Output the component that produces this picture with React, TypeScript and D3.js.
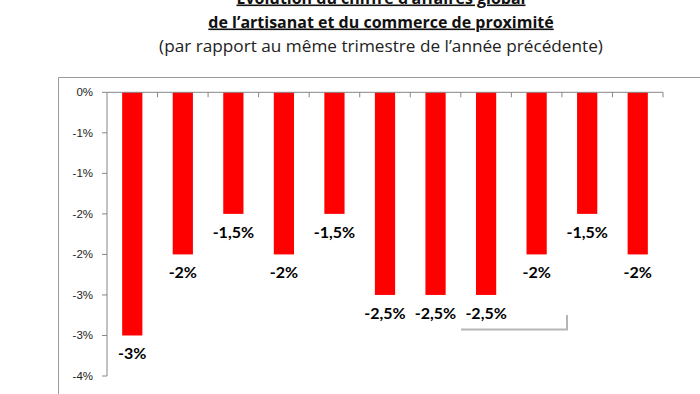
import * as d3 from "d3";

// quarters (labels on the bottom axis are not legible in the source)
const periods = ["Q1", "Q2", "Q3", "Q4", "Q5", "Q6", "Q7", "Q8", "Q9", "Q10", "Q11"];
const values = [-3, -2, -1.5, -2, -1.5, -2.5, -2.5, -2.5, -2, -1.5, -2];
const tickValues = [0, -0.5, -1, -1.5, -2, -2.5, -3, -3.5];
const tickLabels = ["0%", "-1%", "-1%", "-2%", "-2%", "-3%", "-3%", "-4%"];
const titleLines = [
  "Évolution du chiffre d’affaires global",
  "de l’artisanat  et du commerce de proximité",
];
const subtitle = "(par rapport au même trimestre de l’année précédente)";

const W = 700, H = 394;
const fontFam = "Lato, 'Open Sans', sans-serif";
const titleFam = "'Open Sans', Lato, sans-serif";

export default function App() {
  const x = d3.scaleBand<string>()
    .domain(periods)
    .range([107, 663])
    .paddingInner(0.6)
    .paddingOuter(0.3);

  const y = d3.scaleLinear()
    .domain([-3.5, 0])
    .range([376, 92.3]);

  const fmt = (v: number) => String(v).replace(".", ",") + "%";
  const axisCol = "#868686";

  return (
    <svg width={W} height={H} style={{ position: "absolute", left: 0, top: 0, background: "#fff" }}
      fontFamily={fontFam}>
      {/* title */}
      {titleLines.map((t, i) => (
        <text key={t} x={381} y={3.5 + i * 24} textAnchor="middle" fontSize={16}
          fontFamily={titleFam} fontWeight="bold" textDecoration="underline" fill="#111">{t}</text>
      ))}
      <text x={381} y={51.5} textAnchor="middle" fontSize={17.2} fontFamily={titleFam}
        fill="#222">{subtitle}</text>

      {/* chart frame */}
      <path d={`M58.5,${H} V77.5 H${W}`} fill="none" stroke="#9a9a9a" strokeWidth={1} />

      {/* bars */}
      {values.map((v, i) => (
        <rect key={i} x={x(periods[i])} y={y(0)} width={x.bandwidth()}
          height={y(v) - y(0)} fill="#ff0000" />
      ))}

      {/* value labels */}
      {values.map((v, i) => (
        <text key={"l" + i} x={(x(periods[i]) as number) + x.bandwidth() / 2} y={y(v) + 24}
          textAnchor="middle" fontSize={16} fontWeight="bold" fill="#000">{fmt(v)}</text>
      ))}

      {/* y axis */}
      <line x1={107} x2={107} y1={y(0)} y2={y(-3.5)} stroke={axisCol} />
      {tickValues.map((t, i) => (
        <g key={"t" + i}>
          <line x1={102} x2={107} y1={y(t)} y2={y(t)} stroke={axisCol} />
          <text x={93} y={y(t) + 4} textAnchor="end" fontSize={11.5}
            fontFamily="'Liberation Sans', Arial, sans-serif" fill="#222">{tickLabels[i]}</text>
        </g>
      ))}

      {/* category axis at zero */}
      <line x1={107} x2={663} y1={y(0)} y2={y(0)} stroke={axisCol} />
      {periods.map((p, i) => (
        <line key={"c" + p} x1={x.range()[0] + x.step() * (i + 1)} x2={x.range()[0] + x.step() * (i + 1)}
          y1={y(0)} y2={y(0) + 5} stroke={axisCol} />
      ))}

      {/* stray callout corner from the source image */}
      <path d="M461,329.5 H567 V315" fill="none" stroke="#b5b5b5" strokeWidth={2} />
    </svg>
  );
}
